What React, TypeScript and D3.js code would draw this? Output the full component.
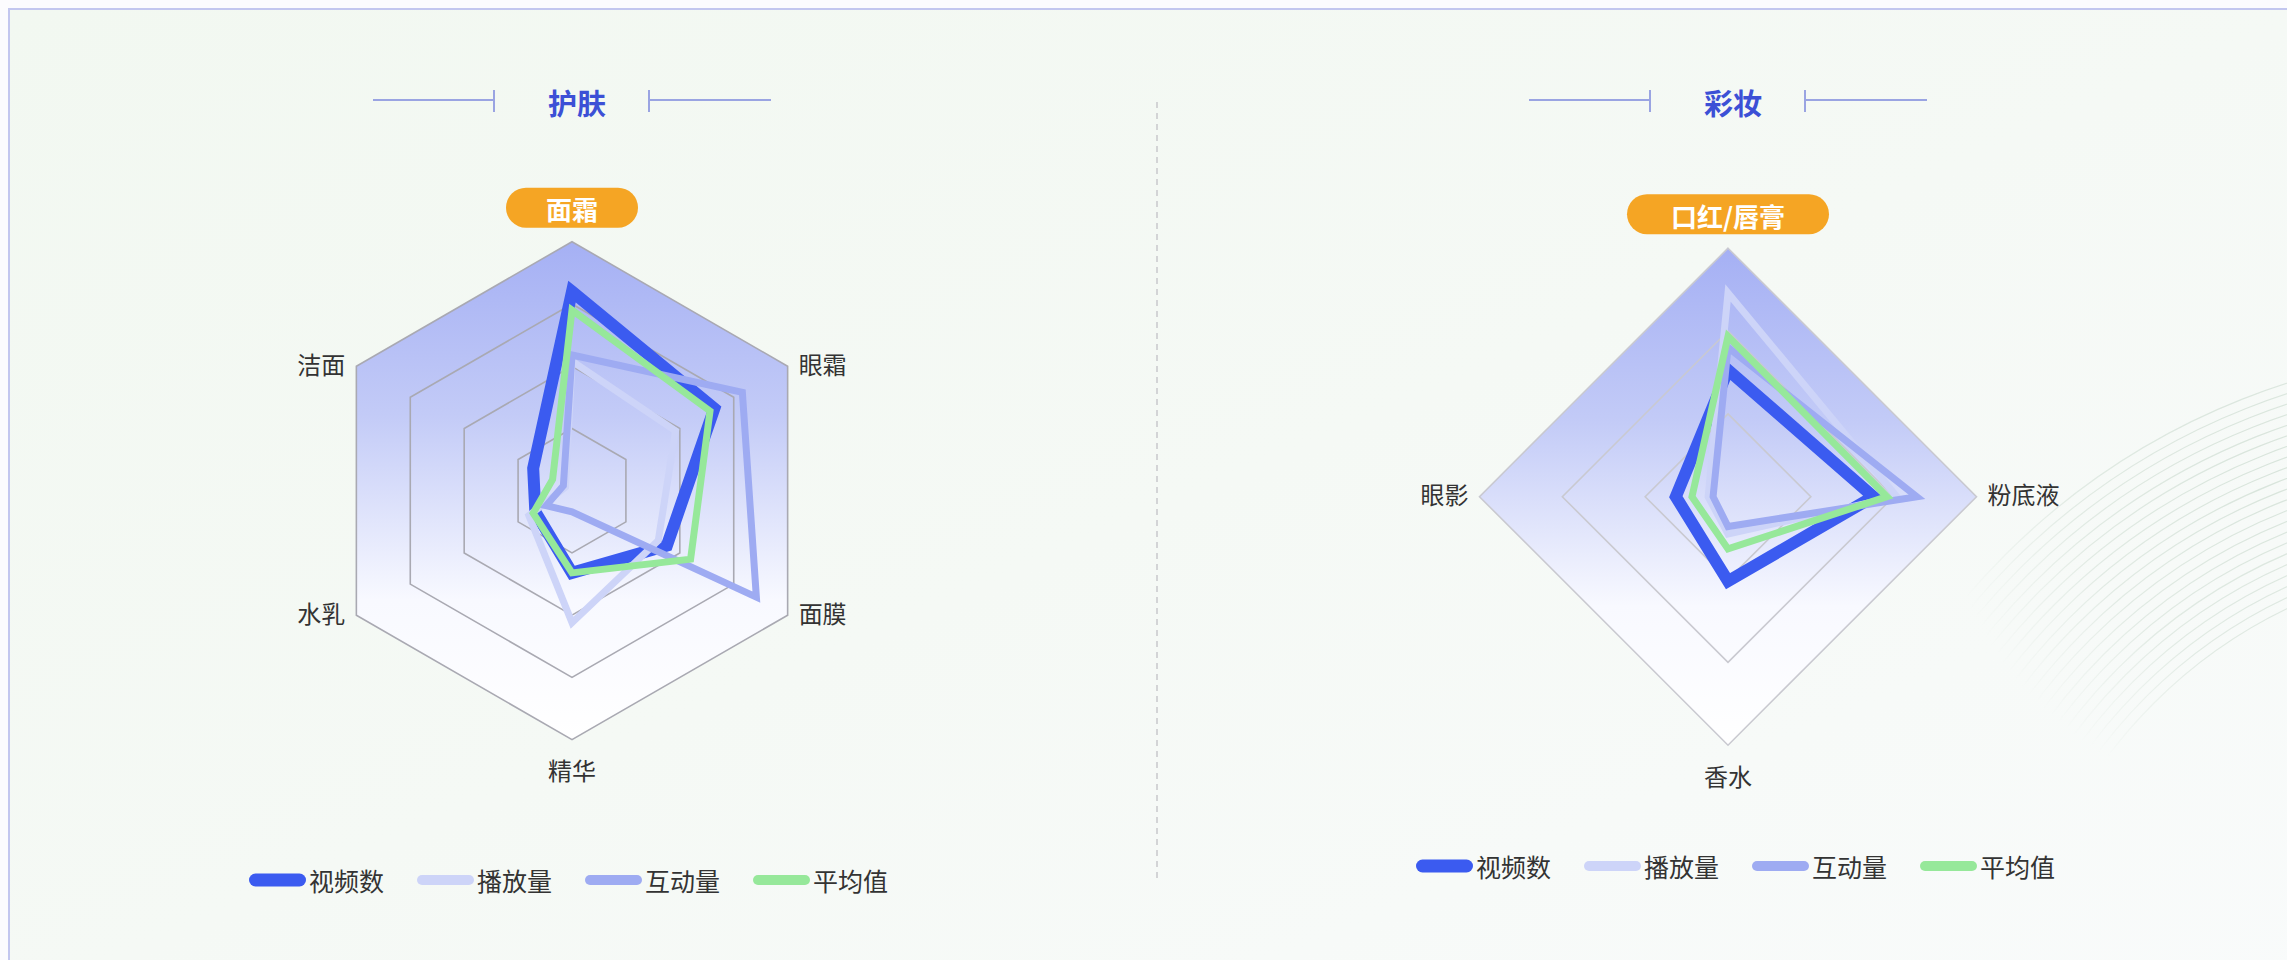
import React from 'react';
import * as d3 from 'd3';

// ---------- data ----------
const seriesNames = ['视频数', '播放量', '互动量', '平均值'];
const seriesColors = ['#3b5bf0', '#cdd4f8', '#9eabf2', '#96e89a'];
const seriesWidths = [12, 7, 7, 7];
const legendWidths = [13, 10, 10, 10];

const skinTitle = '护肤';
const skinAxes = ['面霜', '眼霜', '面膜', '精华', '水乳', '洁面'];
const skinVideo = [80, 66, 44, 33, 17, 18];
const skinPlay = [52, 48, 40, 53, 20, 3];
const skinInteract = [54.5, 79, 85.5, 8.5, 12, 4];
const skinAvg = [72.5, 64, 55, 33, 18, 9];
const skinRings = [25, 50, 75, 100];

const makeupTitle = '彩妆';
const makeupAxes = ['口红/唇膏', '粉底液', '香水', '眼影'];
const makeupVideo = [51, 58.5, 34, 21];
const makeupPlay = [82, 68, 15, 8];
const makeupInteract = [60, 76, 12, 6];
const makeupAvg = [64.5, 64, 21, 14.5];
const makeupRings = [33.33, 66.67, 100];

const FONT = '"Noto Sans CJK SC", "Noto Sans", sans-serif';

type RadarProps = {
  id: string;
  cx: number;
  cy: number;
  R: number;
  title: string;
  axes: string[];
  series: number[][];
  rings: number[];
  ringColor: string;
  badgeW: number;
  legendY: number;
  legendCx: number;
};

function Radar({ id, cx, cy, R, title, axes, series, rings, ringColor, badgeW, legendY, legendCx }: RadarProps) {
  const n = axes.length;
  const r = d3.scaleLinear().domain([0, 100]).range([0, R]);
  const angle = (i: number) => (i * 2 * Math.PI) / n;
  const line = d3
    .lineRadial<number>()
    .angle((_, i) => angle(i))
    .radius((d) => r(d))
    .curve(d3.curveLinearClosed);
  const ringPath = (v: number) => line(axes.map(() => v)) as string;

  const titleY = 100;
  const tickL = cx - 78;
  const tickR = cx + 77;

  const labelEls = axes.map((a, i) => {
    const ang = angle(i);
    const sx = Math.sin(ang);
    const cy0 = -Math.cos(ang);
    const vx = cx + R * sx;
    const vy = cy + R * cy0;
    if (i === 0) {
      const bh = 40;
      const by = vy - 34;
      return (
        <g key={a}>
          <rect x={vx - badgeW / 2} y={by - bh / 2} width={badgeW} height={bh} rx={bh / 2} fill="#f5a524" />
          <text x={vx} y={by + 1} textAnchor="middle" dominantBaseline="central" fontSize={26} fontWeight={700} fill="#ffffff" fontFamily={FONT}>
            {a}
          </text>
        </g>
      );
    }
    if (Math.abs(sx) < 0.01) {
      return (
        <text key={a} x={vx} y={vy + 30} textAnchor="middle" dominantBaseline="central" fontSize={24} fill="#333" fontFamily={FONT}>
          {a}
        </text>
      );
    }
    return (
      <text
        key={a}
        x={vx + (sx > 0 ? 11 : -11)}
        y={vy - 3}
        textAnchor={sx > 0 ? 'start' : 'end'}
        dominantBaseline="central"
        fontSize={24}
        fill="#333"
        fontFamily={FONT}
      >
        {a}
      </text>
    );
  });

  const lineLen = 57;
  const itemStep = 168;
  const legendStart = legendCx - (itemStep * 3 + lineLen + 3 + 78) / 2;

  return (
    <g>
      <defs>
        <linearGradient id={`fill-${id}`} x1="0" y1="0" x2="0" y2="1">
          <stop offset="0" stopColor="#a5b0f4" />
          <stop offset="0.35" stopColor="#c3cbf7" />
          <stop offset="0.72" stopColor="#f8f9ff" />
          <stop offset="1" stopColor="#ffffff" />
        </linearGradient>
      </defs>
      <line x1={tickL - 121} x2={tickL} y1={titleY} y2={titleY} stroke="#9aa4e2" strokeWidth={2} />
      <line x1={tickL} x2={tickL} y1={titleY - 10} y2={titleY + 12} stroke="#9aa4e2" strokeWidth={2} />
      <line x1={tickR} x2={tickR + 122} y1={titleY} y2={titleY} stroke="#9aa4e2" strokeWidth={2} />
      <line x1={tickR} x2={tickR} y1={titleY - 10} y2={titleY + 12} stroke="#9aa4e2" strokeWidth={2} />
      <text x={cx + 5} y={titleY + 2} textAnchor="middle" dominantBaseline="central" fontSize={29} fontWeight={700} fill="#3c50d6" fontFamily={FONT}>
        {title}
      </text>

      <g transform={`translate(${cx},${cy})`}>
        <path d={ringPath(100)} fill={`url(#fill-${id})`} />
        {rings.map((v) => (
          <path key={v} d={ringPath(v)} fill="none" stroke={ringColor} strokeWidth={1.6} />
        ))}
        {series.map((s, k) => (
          <path
            key={k}
            d={line(s) as string}
            fill="none"
            stroke={seriesColors[k]}
            strokeWidth={seriesWidths[k]}
            strokeLinejoin="miter"
          />
        ))}
      </g>
      {labelEls}

      {seriesNames.map((nm, k) => {
        const x0 = legendStart + k * itemStep;
        return (
          <g key={nm}>
            <line
              x1={x0 + legendWidths[k] / 2}
              x2={x0 + lineLen - legendWidths[k] / 2}
              y1={legendY}
              y2={legendY}
              stroke={seriesColors[k]}
              strokeWidth={legendWidths[k]}
              strokeLinecap="round"
            />
            <text x={x0 + lineLen + 3} y={legendY} dominantBaseline="central" fontSize={25} fill="#333" fontFamily={FONT}>
              {nm}
            </text>
          </g>
        );
      })}
    </g>
  );
}

export default function App() {
  const arcs = d3.range(0, 22).map((i) => 490 + i * 10);
  return (
    <svg
      width={2287}
      height={960}
      style={{ position: 'fixed', left: 0, top: 0, display: 'block' }}
      viewBox="0 0 2287 960"
    >
      <defs>
        <linearGradient id="bg" x1="0" y1="0" x2="1" y2="1">
          <stop offset="0" stopColor="#f2f8f1" />
          <stop offset="0.5" stopColor="#f5f9f5" />
          <stop offset="1" stopColor="#f9fbfb" />
        </linearGradient>
        <radialGradient id="arcmaskgrad" gradientUnits="userSpaceOnUse" cx="2270" cy="470" r="330">
          <stop offset="0" stopColor="#fff" stopOpacity="1" />
          <stop offset="0.6" stopColor="#fff" stopOpacity="0.7" />
          <stop offset="1" stopColor="#fff" stopOpacity="0" />
        </radialGradient>
        <mask id="arcmask" maskUnits="userSpaceOnUse" x="0" y="0" width="2287" height="960">
          <rect x={0} y={0} width={2287} height={960} fill="url(#arcmaskgrad)" />
        </mask>
        <clipPath id="cardclip">
          <rect x={9} y={9} width={2300} height={1000} />
        </clipPath>
      </defs>
      <rect x={0} y={0} width={2287} height={960} fill="#fcfcfe" />
      <rect x={9} y={9} width={2320} height={1000} fill="url(#bg)" stroke="#c3c7ef" strokeWidth={2} />
      <g clipPath="url(#cardclip)" mask="url(#arcmask)">
        {arcs.map((rr) => (
          <circle key={rr} cx={2500} cy={1050} r={rr} fill="none" stroke="#d8e4db" strokeWidth={1.2} />
        ))}
      </g>

      <line x1={1157} x2={1157} y1={102} y2={882} stroke="#c8c8cc" strokeWidth={1.5} strokeDasharray="6 5" />

      <Radar
        id="skin"
        cx={572}
        cy={490.7}
        R={249}
        title={skinTitle}
        axes={skinAxes}
        series={[skinVideo, skinPlay, skinInteract, skinAvg]}
        rings={skinRings}
        ringColor="#a9a9b2"
        badgeW={132}
        legendY={880}
        legendCx={570}
      />
      <Radar
        id="makeup"
        cx={1728}
        cy={496.7}
        R={248.5}
        title={makeupTitle}
        axes={makeupAxes}
        series={[makeupVideo, makeupPlay, makeupInteract, makeupAvg]}
        rings={makeupRings}
        ringColor="#c9c9d0"
        badgeW={202}
        legendY={866}
        legendCx={1737}
      />
    </svg>
  );
}
